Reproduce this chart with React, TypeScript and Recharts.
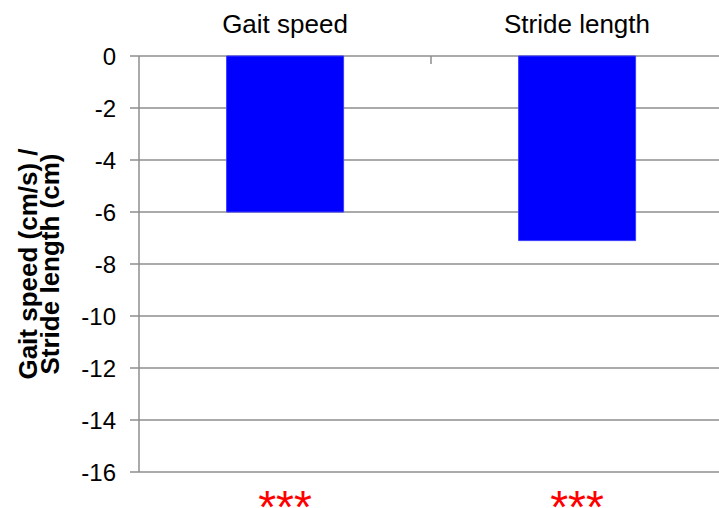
import { BarChart, Bar, XAxis, YAxis, CartesianGrid } from 'recharts'

const categories = ['Gait speed', 'Stride length']
const changes = [-6.0, -7.1]
const significance = ['***', '***']
const yTicks = [0, -2, -4, -6, -8, -10, -12, -14, -16]

const GRID = '#8e8e8e'
const FONT = '"Liberation Sans", Arial, sans-serif'

const chartData = categories.map((name, i) => ({ name, value: changes[i], sig: significance[i] }))

// category names above the zero line, plus the boundary tick between categories
function TopTick(props: any) {
  const { x, y, payload, index, visibleTicksCount } = props
  const edge = payload.coordinate + (payload.offset ?? 0)
  return (
    <g>
      <text x={x} y={y - 15} textAnchor="middle" fontSize={26} fill="#000" fontFamily={FONT}>
        {payload.value}
      </text>
      {index < visibleTicksCount - 1 && (
        <line x1={edge} x2={edge} y1={y + 8} y2={y + 16} stroke={GRID} strokeWidth={1.5} />
      )}
    </g>
  )
}

function SigTick(props: any) {
  const { x, y, index } = props
  return (
    <text x={x} y={y + 43} textAnchor="middle" fontSize={46} fill="#ff0000" fontFamily={FONT}>
      {significance[index]}
    </text>
  )
}

function YLabel(props: any) {
  const vb = props.viewBox
  const cy = vb.y + vb.height / 2
  const lines = ['Gait speed (cm/s) /', 'Stride length (cm)']
  return (
    <g>
      {lines.map((t, i) => {
        const cx = vb.x + 37 + i * 22
        return (
          <text
            key={t}
            x={cx}
            y={cy}
            transform={`rotate(-90 ${cx} ${cy})`}
            textAnchor="middle"
            fontSize={26}
            fontWeight="bold"
            fill="#000"
            fontFamily={FONT}
          >
            {t}
          </text>
        )
      })}
    </g>
  )
}

export default function App() {
  return (
    <div style={{ position: 'absolute', left: 0, top: 0, width: 719, height: 508, overflow: 'hidden', background: '#fff' }}>
      <BarChart
        width={723}
        height={508}
        data={chartData}
        margin={{ top: 0, right: 0, bottom: 0, left: 0 }}
        barCategoryGap="30%"
        style={{ fontFamily: FONT }}
      >
        <CartesianGrid vertical={false} stroke={GRID} strokeWidth={1.5} />
        <XAxis
          xAxisId="top"
          dataKey="name"
          orientation="top"
          height={56}
          axisLine={false}
          tickLine={false}
          tick={<TopTick />}
          interval={0}
        />
        <XAxis
          xAxisId="sig"
          dataKey="name"
          orientation="bottom"
          height={36}
          axisLine={false}
          tickLine={false}
          tick={<SigTick />}
          interval={0}
        />
        <YAxis
          width={139}
          domain={[-16, 0]}
          ticks={yTicks}
          interval={0}
          axisLine={{ stroke: GRID, strokeWidth: 1.5 }}
          tickLine={{ stroke: GRID, strokeWidth: 1.5 }}
          tickSize={9}
          tickMargin={14}
          tick={{ fontSize: 24, fill: '#000', fontFamily: FONT }}
          label={{ content: <YLabel /> }}
        />
        <Bar
          xAxisId="top"
          dataKey="value"
          fill="#0000ff"
          stroke="#3a3aff"
          strokeWidth={1}
          isAnimationActive={false}
        />
      </BarChart>
    </div>
  )
}
